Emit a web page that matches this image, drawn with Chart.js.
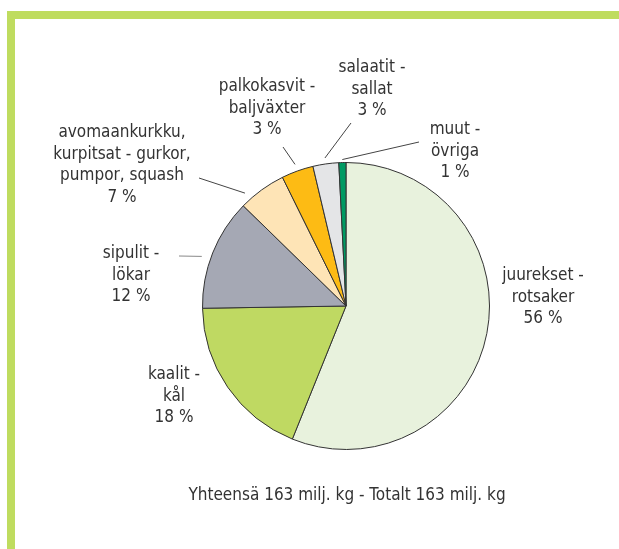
<!DOCTYPE html>
<html>
<head>
<meta charset="utf-8">
<script src="https://cdn.jsdelivr.net/npm/chart.js@4"></script>
<style>
  html, body { margin: 0; padding: 0; background: #fff; }
  #wrap { position: relative; width: 619px; height: 549px; }
</style>
</head>
<body>
<div id="wrap"><canvas id="pieChart" width="619" height="549"></canvas></div>
<script>
// Slices, clockwise from 12 o'clock
const categories = ['juurekset - rotsaker', 'kaalit - kål', 'sipulit - lökar',
  'avomaankurkku, kurpitsat - gurkor, pumpor, squash', 'palkokasvit - baljväxter',
  'salaatit - sallat', 'muut - övriga'];
const shares = [56.1, 18.65, 12.55, 5.4, 3.6, 2.9, 0.8];   // sizes as drawn
const labelLines = [
  ['juurekset -', 'rotsaker', '56 %'],
  ['kaalit -', 'kål', '18 %'],
  ['sipulit -', 'lökar', '12 %'],
  ['avomaankurkku,', 'kurpitsat - gurkor,', 'pumpor, squash', '7 %'],
  ['palkokasvit -', 'baljväxter', '3 %'],
  ['salaatit -', 'sallat', '3 %'],
  ['muut -', 'övriga', '1 %']
];
const sliceColors = ['#e8f2dd', '#bfd962', '#a5a8b4', '#fee4b6', '#fdbb14', '#e4e5e7', '#009a62'];
const footer = 'Yhteensä 163 milj. kg - Totalt 163 milj. kg';

// label block centres (x, y of first line) and leader start points, null = no leader
const labelPos = [[543, 276], [174, 375], [131, 254], [122, 133], [267, 87], [372, 68], [455, 130]];
const leaderFrom = [null, null, [179, 256], [199, 178], [283, 147], [351, 123], [419, 142]];
// where along the slice the leader meets it (0 = start, 1 = end) and gap from rim
const leaderAt = [0, 0, 0.44, 0.2, 0.5, 0.5, 0.5];
const leaderGap = [0, 0, 9, 8, 7, 6, 3];

const FONT = '17px "Liberation Sans Narrow", "DejaVu Sans Condensed", sans-serif';
const LINE_H = 21.5;

// green frame + labels + leader lines
const decor = {
  id: 'decor',
  beforeDraw(chart) {
    const c = chart.ctx;
    c.save();
    c.fillStyle = '#bfdc5f';
    c.fillRect(7, 11, 612, 8);
    c.fillRect(7, 11, 8, 538);
    c.restore();
  },
  afterDraw(chart) {
    const c = chart.ctx;
    const arcs = chart.getDatasetMeta(0).data;
    c.save();
    c.font = FONT;
    c.fillStyle = '#333';
    c.textAlign = 'center';
    c.textBaseline = 'middle';
    labelLines.forEach((lines, i) => {
      lines.forEach((t, j) => c.fillText(t, labelPos[i][0], labelPos[i][1] + j * LINE_H));
    });
    c.fillText(footer, 347, 496);

    arcs.forEach((arc, i) => {
      if (!leaderFrom[i]) return;
      const p = arc.getProps(['x', 'y', 'startAngle', 'endAngle', 'outerRadius'], true);
      const a = p.startAngle + (p.endAngle - p.startAngle) * leaderAt[i];
      const r = p.outerRadius + leaderGap[i];
      c.strokeStyle = i === 2 ? '#888' : '#444';
      c.lineWidth = 1;
      c.beginPath();
      c.moveTo(leaderFrom[i][0], leaderFrom[i][1]);
      c.lineTo(p.x + r * Math.cos(a), p.y + r * Math.sin(a));
      c.stroke();
    });
    c.restore();
  }
};

new Chart(document.getElementById('pieChart'), {
  type: 'pie',
  data: {
    labels: categories,
    datasets: [{
      data: shares,
      backgroundColor: sliceColors,
      borderColor: '#333',
      borderWidth: 1,
      hoverOffset: 0
    }]
  },
  options: {
    responsive: false,
    animation: false,
    events: [],
    radius: 143.5,
    layout: { padding: { left: 196, right: 123, top: 156, bottom: 93 } },
    plugins: {
      legend: { display: false },
      tooltip: { enabled: false }
    }
  },
  plugins: [decor]
});
</script>
</body>
</html>
